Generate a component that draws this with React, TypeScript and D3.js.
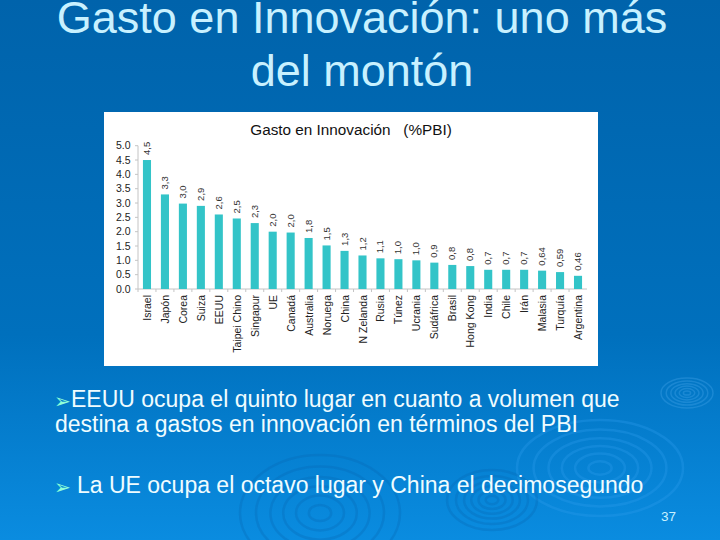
import * as d3 from "d3";

const countries = ["Israel", "Japón", "Corea", "Suiza", "EEUU", "Taipei Chino", "Singapur", "UE", "Canadá", "Australia", "Noruega", "China", "N Zelanda", "Rusia", "Túnez", "Ucrania", "Sudáfrica", "Brasil", "Hong Kong", "India", "Chile", "Irán", "Malasia", "Turquía", "Argentina"];
const values = [4.5, 3.3, 2.98, 2.9, 2.6, 2.46, 2.3, 2.0, 1.97, 1.78, 1.52, 1.33, 1.17, 1.07, 1.04, 1.0, 0.92, 0.84, 0.8, 0.67, 0.67, 0.67, 0.64, 0.59, 0.46];
const valueLabels = ["4,5", "3,3", "3,0", "2,9", "2,6", "2,5", "2,3", "2,0", "2,0", "1,8", "1,5", "1,3", "1,2", "1,1", "1,0", "1,0", "0,9", "0,8", "0,8", "0,7", "0,7", "0,7", "0,64", "0,59", "0,46"];
const yTicks = [0, 0.5, 1, 1.5, 2, 2.5, 3, 3.5, 4, 4.5, 5];

const font = "'Liberation Sans', Arial, sans-serif";
const ringSteps = [0.14, 0.3, 0.46, 0.62, 0.8, 1];
// cx, cy, rx, ry, stroke, opacity
const rings: [number, number, number, number, string, number][] = [
  [687, 393, 26, 15, "#3ea0e6", 0.4],
  [600, 468, 83, 48, "#2a9cea", 0.35],
  [320, 513, 80, 58, "#0668b4", 0.3],
  [492, 500, 45, 30, "#0668b4", 0.3],
];

export default function App() {
  const x = d3.scaleBand<string>().domain(countries).range([138, 587]).paddingInner(0.55).paddingOuter(0.275);
  const y = d3.scaleLinear().domain([0, 5]).range([289, 145.7]);

  return (
    <svg
      width={720}
      height={540}
      style={{ position: "absolute", left: 0, top: 0, display: "block" }}
      fontFamily={font}
    >
      <defs>
        <linearGradient id="bg" x1="0" y1="0" x2="0" y2="1">
          <stop offset="0" stopColor="#0063ab" />
          <stop offset="0.62" stopColor="#0070bd" />
          <stop offset="1" stopColor="#0a8ce0" />
        </linearGradient>
      </defs>
      <rect width={720} height={540} fill="url(#bg)" />

      {rings.map(([cx, cy, rx, ry, color, opacity], i) => (
        <g key={i} fill="none" stroke={color} strokeOpacity={opacity} strokeWidth={i === 0 ? 1.5 : 2.5}>
          {ringSteps.map((k) => (
            <ellipse key={k} cx={cx} cy={cy} rx={rx * k} ry={ry * k} />
          ))}
        </g>
      ))}

      <g fill="#c8f1ff" fontSize={45} textAnchor="middle">
        <text x={362} y={33}>Gasto en Innovación: uno más</text>
        <text x={362} y={86}>del montón</text>
      </g>

      <rect x={104} y={112} width={494} height={254} fill="#ffffff" />
      <text x={351} y={135} fontSize={15.3} textAnchor="middle" fill="#111" style={{ whiteSpace: "pre" }}>Gasto en Innovación   (%PBI)</text>

      <g stroke="#c4c4c4" strokeWidth={1}>
        <line x1={138} x2={138} y1={y(5)} y2={y(0)} />
        <line x1={138} x2={587} y1={y(0)} y2={y(0)} />
        {yTicks.map((t) => (
          <line key={t} x1={135} x2={138} y1={y(t)} y2={y(t)} />
        ))}
        {countries.map((c) => (
          <line key={c} x1={x(c)! - x.step() * 0.275} x2={x(c)! - x.step() * 0.275} y1={y(0)} y2={y(0) + 3} />
        ))}
      </g>
      {yTicks.map((t) => (
        <text key={t} x={130.5} y={y(t) + 3.5} fontSize={10.5} textAnchor="end" fill="#222">
          {t.toFixed(1)}
        </text>
      ))}

      {countries.map((c, i) => {
        const cx = x(c)! + x.bandwidth() / 2;
        return (
          <g key={c}>
            <rect x={x(c)} y={y(values[i])} width={x.bandwidth()} height={y(0) - y(values[i])} fill="#33c4c8" />
            <text transform={`translate(${cx + 3},${y(values[i]) - 5}) rotate(-90)`} fontSize={9.5} fill="#333">
              {valueLabels[i]}
            </text>
            <text transform={`translate(${cx + 4},${y(0) + 6}) rotate(-90)`} fontSize={10.5} textAnchor="end" fill="#222">
              {c}
            </text>
          </g>
        );
      })}

      <g fill="#effcff" fontSize={23}>
        <text x={54} y={408} fontSize={20} fontFamily="'DejaVu Sans', sans-serif" fill="#8fffd8">➢</text>
        <text x={71} y={407}>EEUU ocupa el quinto lugar en cuanto a volumen que</text>
        <text x={55} y={432}>destina a gastos en innovación en términos del PBI</text>
        <text x={54} y={494} fontSize={20} fontFamily="'DejaVu Sans', sans-serif" fill="#8fffd8">➢</text>
        <text x={77} y={493}>La UE ocupa el octavo lugar y China el decimosegundo</text>
      </g>
      <text x={661} y={521} fontSize={13.5} fill="#c8f1ff">37</text>
    </svg>
  );
}
